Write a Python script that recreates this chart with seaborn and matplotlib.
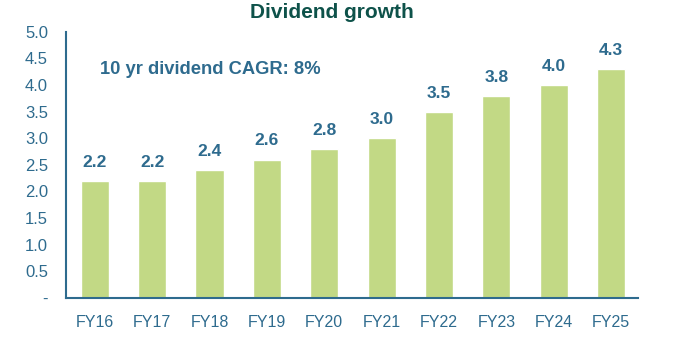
import matplotlib
matplotlib.use("Agg")
import matplotlib.pyplot as plt
import seaborn as sns
import pandas as pd

years = ["FY16", "FY17", "FY18", "FY19", "FY20", "FY21", "FY22", "FY23", "FY24", "FY25"]
dividends = [2.2, 2.2, 2.4, 2.6, 2.8, 3.0, 3.5, 3.8, 4.0, 4.3]
y_ticks = [0, 0.5, 1.0, 1.5, 2.0, 2.5, 3.0, 3.5, 4.0, 4.5, 5.0]
y_tick_labels = ["-", "0.5", "1.0", "1.5", "2.0", "2.5", "3.0", "3.5", "4.0", "4.5", "5.0"]

bar_color = "#C2D985"
text_color = "#2E6B8E"
title_color = "#0E524A"

sns.set_theme(style="white")
plt.rcParams["font.family"] = ["Liberation Sans", "DejaVu Sans"]

df = pd.DataFrame({"year": years, "dividend": dividends})

fig = plt.figure(figsize=(6.77, 3.5), dpi=100)
ax = fig.add_axes([0.0975, 0.149, 0.845, 0.76])

sns.barplot(data=df, x="year", y="dividend", color=bar_color, width=0.49,
            saturation=1, ax=ax)

for container in ax.containers:
    ax.bar_label(container, fmt="%.1f", padding=8, color=text_color,
                 fontsize=12.5, fontweight="bold")

ax.set_ylim(0, 5.0)
ax.set_xlim(-0.5, 9.47)
ax.set_yticks(y_ticks)
ax.set_yticklabels(y_tick_labels)
ax.set_xlabel("")
ax.set_ylabel("")
ax.tick_params(axis="both", length=0, colors=text_color)
ax.tick_params(axis="x", pad=12, labelsize=11.5)
ax.tick_params(axis="y", pad=13, labelsize=12)

for side in ["top", "right"]:
    ax.spines[side].set_visible(False)
for side in ["left", "bottom"]:
    ax.spines[side].set_color(text_color)
    ax.spines[side].set_linewidth(1.5)

ax.text(0.06, 0.86, "10 yr dividend CAGR: 8%", transform=ax.transAxes,
        color=text_color, fontsize=13.2, fontweight="bold", va="center")

fig.text(0.49, 0.963, "Dividend growth", ha="center", va="center",
         color=title_color, fontsize=15, fontweight="bold")

fig.savefig("out.png", dpi=100)
